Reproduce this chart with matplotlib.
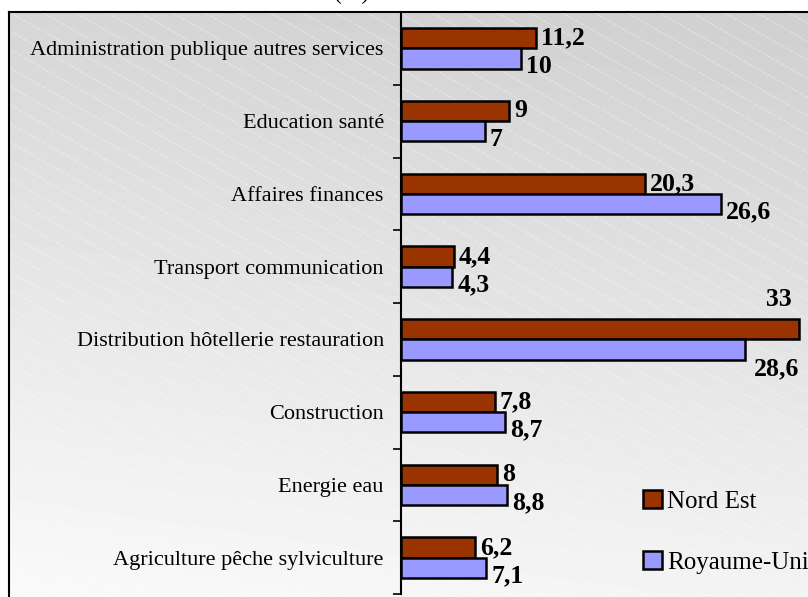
import numpy as np
import matplotlib.pyplot as plt

plt.rcParams['font.family'] = ['Liberation Serif', 'DejaVu Serif']

categories = ['Administration publique autres services', 'Education santé',
              'Affaires finances', 'Transport communication',
              'Distribution hôtellerie restauration', 'Construction',
              'Energie eau', 'Agriculture pêche sylviculture']
nord_est = [11.2, 9, 20.3, 4.4, 33, 7.8, 8, 6.2]
royaume_uni = [10, 7, 26.6, 4.3, 28.6, 8.7, 8.8, 7.1]
labels_ne = ['11,2', '9', '20,3', '4,4', '33', '7,8', '8', '6,2']
labels_ru = ['10', '7', '26,6', '4,3', '28,6', '8,7', '8,8', '7,1']

W, H = 808, 597
fig = plt.figure(figsize=(W / 100, H / 100), dpi=100)

# fond : degrade gris + fines diagonales blanches
bg = fig.add_axes([9 / W, 0, 1 - 9 / W, 1 - 12 / H], zorder=0)
bw, bh = W - 9, H - 12
u = np.linspace(0, 1, bw)[None, :]
t = np.linspace(0, 1, bh)[:, None]
grad = 207 + 7 * (1 - u) + 36 * t
bg.imshow(grad, cmap='gray', vmin=0, vmax=255, extent=(0, bw, bh, 0), aspect='auto')
for k in range(-30, 60):
    xs = np.array([0, bw])
    bg.plot(xs, 0.57 * xs + k * 18.5, color='white', lw=0.6, alpha=0.45,
            ls=(0, (5, 1.5)))
bg.set_xlim(0, bw)
bg.set_ylim(bh, 0)
bg.set_xticks([])
bg.set_yticks([])
for s in ['right', 'bottom']:
    bg.spines[s].set_visible(False)
for s in ['left', 'top']:
    bg.spines[s].set_linewidth(1.5)

# graphique
px_unit = (799 - 401) / 33
xmax = 35
ax = fig.add_axes([400.5 / W, 1 - 594 / H, xmax * px_unit / W, 582 / H], zorder=1)
ax.patch.set_alpha(0)

y = np.arange(len(categories))
h = 0.28
ax.barh(y - h / 2, nord_est, h, color='#993300', edgecolor='black', lw=1.8,
        label='Nord Est')
ax.barh(y + h / 2, royaume_uni, h, color='#9999FF', edgecolor='black', lw=1.8,
        label='Royaume-Uni')

ax.set_xlim(0, xmax)
ax.set_ylim(len(categories) - 0.5, -0.5)
ax.set_yticks(y)
ax.set_yticklabels(categories, fontsize=16)
ax.set_yticks(np.arange(len(categories) + 1) - 0.5, minor=True)
ax.tick_params(axis='y', which='major', length=0, pad=12)
ax.tick_params(axis='y', which='minor', length=6, width=1.2, direction='out')
ax.set_xticks([])
for s in ['right', 'top', 'bottom']:
    ax.spines[s].set_visible(False)
ax.spines['left'].set_linewidth(1.5)

pt = 0.72  # points par pixel
fs = 18.5
imax = int(np.argmax(nord_est))
for i in range(len(categories)):
    if i == imax:
        ax.annotate(labels_ne[i], (nord_est[i], i - h), xytext=(-7 * pt, 20 * pt),
                    textcoords='offset points', ha='right', va='center',
                    fontsize=fs, fontweight='bold')
        ax.annotate(labels_ru[i], (royaume_uni[i], i + h / 2), xytext=(8 * pt, -19 * pt),
                    textcoords='offset points', ha='left', va='center',
                    fontsize=fs, fontweight='bold')
    else:
        ax.annotate(labels_ne[i], (nord_est[i], i - h / 2), xytext=(5 * pt, 0),
                    textcoords='offset points', ha='left', va='center',
                    fontsize=fs, fontweight='bold')
        ax.annotate(labels_ru[i], (royaume_uni[i], i + h / 2), xytext=(5 * pt, -8 * pt),
                    textcoords='offset points', ha='left', va='center',
                    fontsize=fs, fontweight='bold')

ax.legend(loc='upper left', bbox_to_anchor=(633 / W, 1 - 480 / H),
          bbox_transform=fig.transFigure, frameon=False, fontsize=18,
          handlelength=0.75, handleheight=0.75, handletextpad=0.2,
          labelspacing=1.53, borderaxespad=0)

fig.text(352 / W, 1 + 1 / H, '(%)', ha='center', va='baseline', fontsize=17)

fig.savefig('out.png', dpi=100)
